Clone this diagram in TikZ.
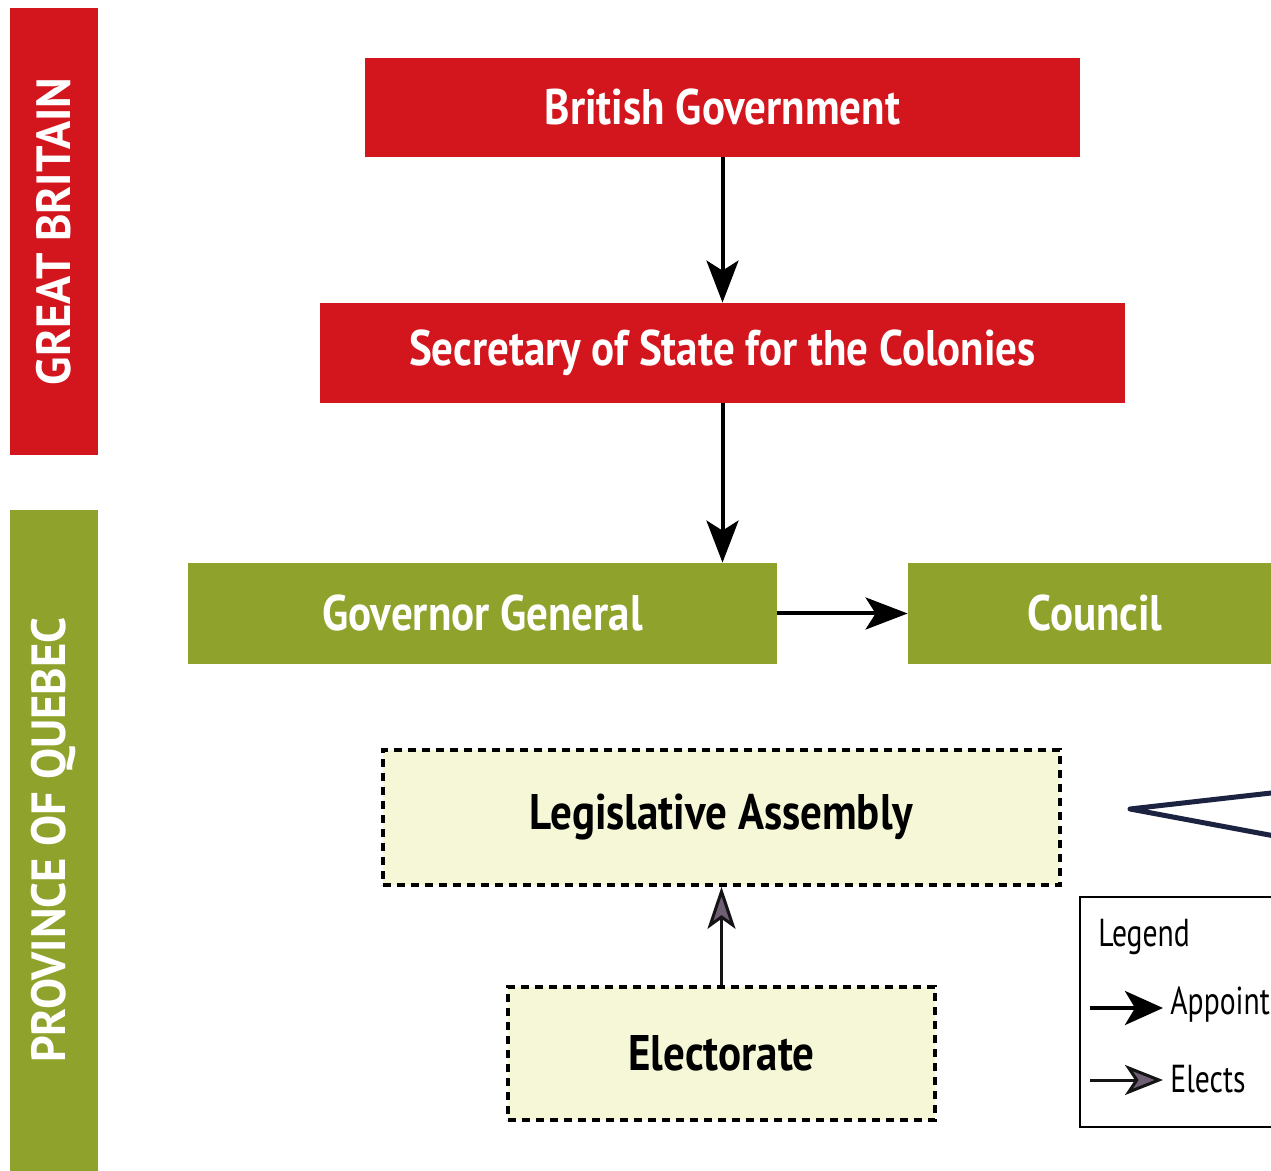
\documentclass[tikz,border=0pt]{standalone}
\usepackage{fontspec}
\setmainfont{PT Sans}
\newfontfamily\chartfont[FakeStretch=0.86]{PT Sans}
\newfontfamily\bandfont[FakeStretch=0.97]{PT Sans}
\newfontfamily\keyfont[FakeStretch=0.76]{PT Sans}
\usepackage{tikz}
\usetikzlibrary{arrows.meta}
\definecolor{britred}{HTML}{D3161D}
\definecolor{quegreen}{HTML}{8FA22B}
\definecolor{paleyellow}{HTML}{F5F7D6}
\definecolor{electgrey}{HTML}{6E5F72}
\definecolor{bracketblue}{HTML}{1B2340}
\tikzset{>=latex}

\begin{document}
\begin{tikzpicture}
    [
      x=0.5pt, y=-0.5pt,
      band/.style={rectangle, inner sep=0pt, text=white, font=\bandfont\fontsize{24}{28}\selectfont\bfseries},
      britbox/.style={rectangle, fill=britred, inner sep=0pt, text=white, font=\chartfont\fontsize{25}{28}\selectfont\bfseries},
      quebox/.style={rectangle, fill=quegreen, inner sep=0pt, text=white, font=\chartfont\fontsize{25}{28}\selectfont\bfseries},
      elected/.style={rectangle, draw=black, line width=1.8pt, dash pattern=on 4pt off 3pt, fill=paleyellow, inner sep=0pt, font=\chartfont\fontsize{25}{28}\selectfont\bfseries},
      keytext/.style={anchor=west, inner sep=0pt, font=\keyfont\fontsize{19.5}{24}\selectfont},
      arr/.style={-{Stealth[length=21pt, width=16pt, inset=5pt]}, draw, line width=2pt},
      elect/.style={-{Stealth[length=21pt, width=14pt, inset=5pt, fill=electgrey]}, draw=black!80!electgrey, line width=1.5pt}
    ]
    \clip (0,0) rectangle (1271,1171);
    \fill [white] (0,0) rectangle (1271,1171);

    % side bands
    \node (gb) [band, fill=britred, minimum width=44pt, minimum height=223.5pt] at (54,231.5) {};
    \node [band, rotate=90] at (gb.center) {GREAT BRITAIN};
    \node (pq) [band, fill=quegreen, minimum width=44pt, minimum height=340pt] at (54,850) {};
    \node [band, rotate=90] at (54,840) {PROVINCE OF QUEBEC};

    % offices
    \node (brit-gov) [britbox, minimum width=357.5pt, minimum height=49.5pt] at (722.5,107.5) {British Government};
    \node (sec-state) [britbox, minimum width=402.5pt, minimum height=50pt] at (722.5,353) {Secretary of State for the Colonies};
    \node (gov-gen) [quebox, minimum width=294.5pt, minimum height=50.5pt] at (482.5,613.5) {Governor General};
    \node (council) [quebox, minimum width=187pt, minimum height=50.5pt] at (1095,613.5) {Council};
    \node (assembly) [elected, minimum width=338.5pt, minimum height=67.5pt] at (721.5,817.5) {Legislative Assembly};
    \node (electorate) [elected, minimum width=213.5pt, minimum height=66.5pt] at (721.5,1053.5) {Electorate};

    \draw [arr] (brit-gov) -- (sec-state);
    \draw [arr] (sec-state.south) -- (sec-state.south |- gov-gen.north);
    \draw [arr] (gov-gen) -- (council);
    \draw [elect] (electorate) -- (assembly);

    % bracket on the right
    \coordinate (brace-top) at (1280,792);
    \coordinate (brace-tip) at (1130,809);
    \coordinate (brace-bot) at (1280,837);
    \draw [bracketblue, line width=2.5pt, line join=round, line cap=round] (brace-top) -- (brace-tip) -- (brace-bot);

    % legend
    \node (legend) [draw, fill=white, line width=1.2pt, minimum width=120pt, minimum height=115pt, inner sep=0pt] at (1200,1012) {};
    \node (legend-title) [keytext] at (1098,937) {Legend};
    \coordinate (app-start) at (1090,1008);
    \coordinate (app-end) at (1163,1008);
    \draw [arr, -{Stealth[length=19pt, width=17pt, inset=5pt]}] (app-start) -- (app-end);
    \node (app-text) [keytext] at (1170,1005) {Appoint};
    \coordinate (el-start) at (1090,1080);
    \coordinate (el-end) at (1163,1080);
    \draw [elect, -{Stealth[length=19pt, width=15pt, inset=5pt, fill=electgrey]}] (el-start) -- (el-end);
    \node (el-text) [keytext] at (1170,1079) {Elects};
  \end{tikzpicture}
\end{document}
